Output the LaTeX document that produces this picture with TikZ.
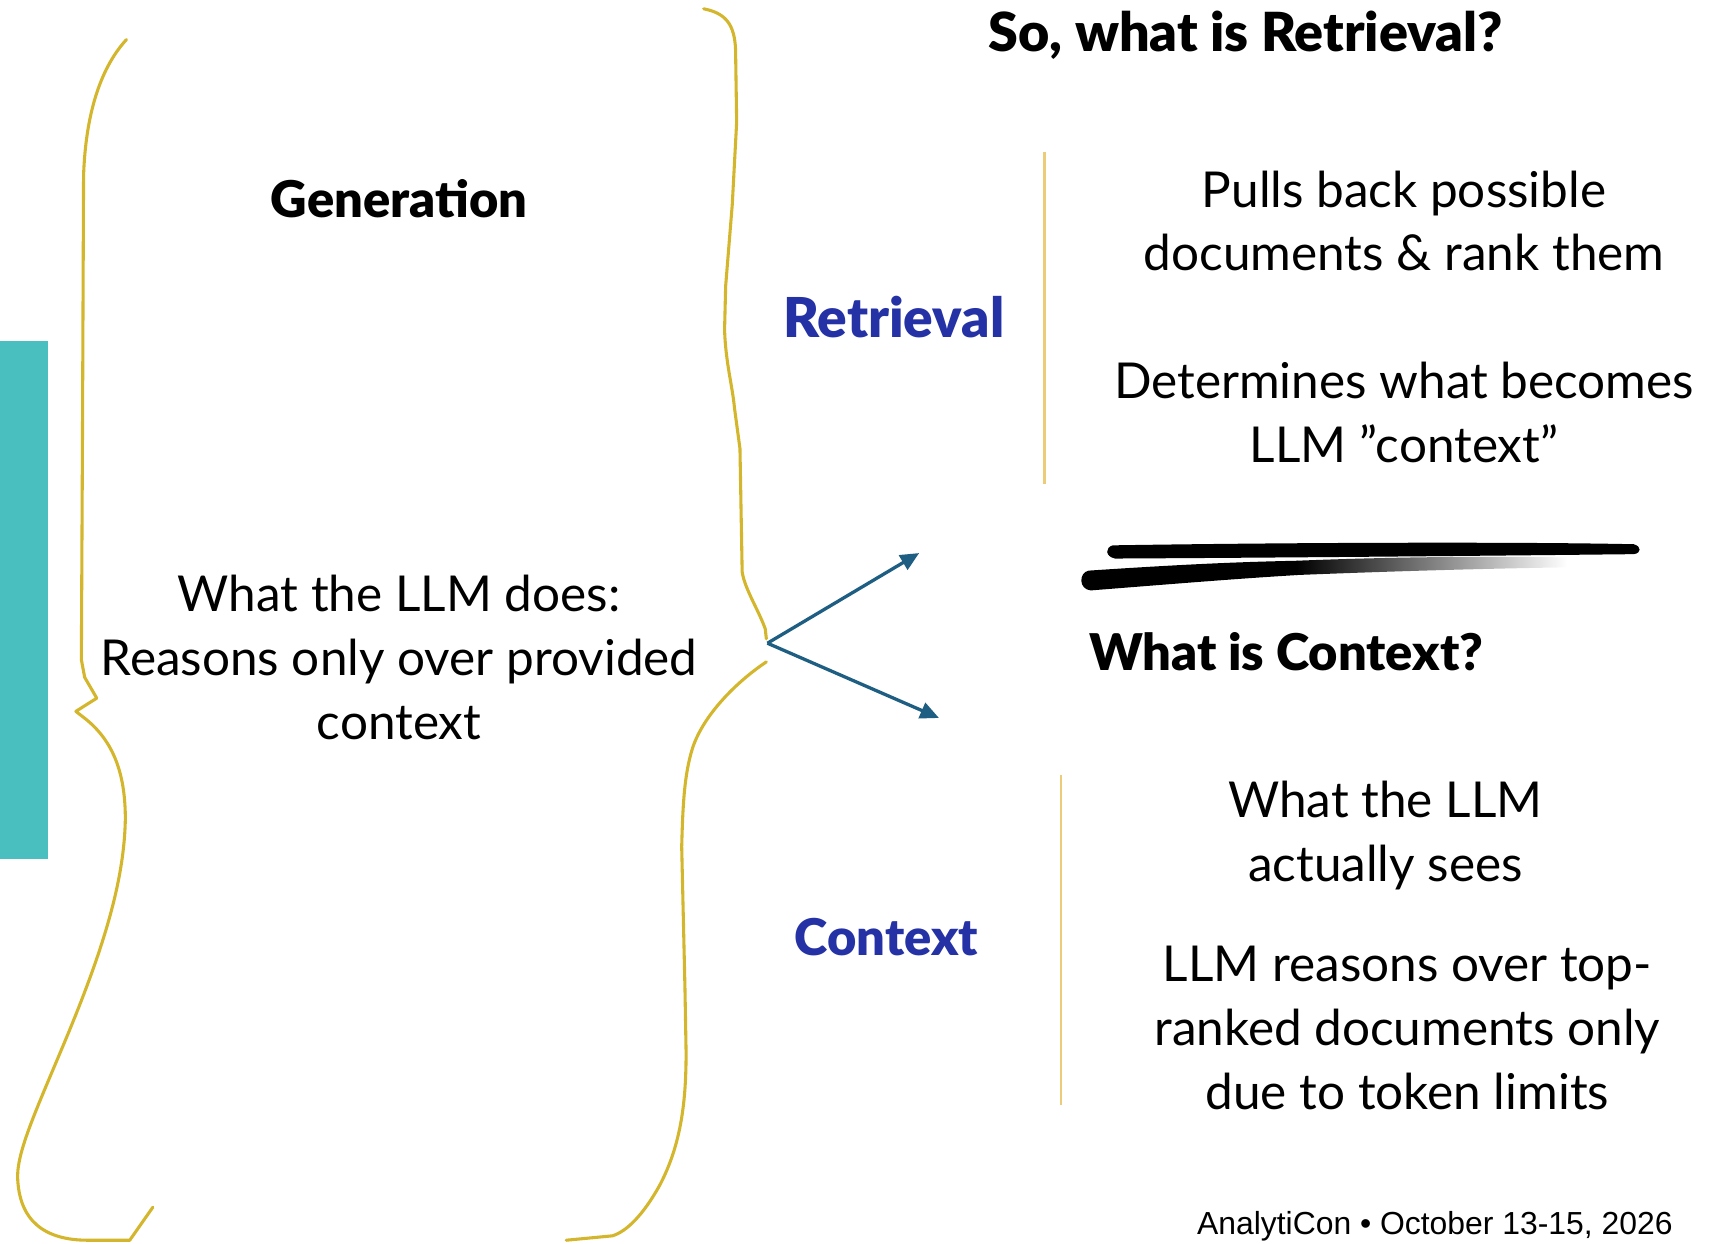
\documentclass[tikz,border=0pt]{standalone}
\usepackage{fontspec}
\setmainfont{Lato}
\newfontfamily\headfont{Lato Black}
\newfontfamily\footfont{Liberation Sans}
\usetikzlibrary{arrows.meta,fadings}
\definecolor{braceyellow}{RGB}{212,182,44}
\definecolor{ruleyellow}{RGB}{236,204,120}
\definecolor{tealbar}{RGB}{74,191,192}
\definecolor{arrowblue}{RGB}{30,94,130}
\definecolor{labelblue}{RGB}{36,50,165}
% opaque on the left, transparent on the right
\tikzfading[name=fadeout, left color=transparent!0, right color=transparent!100]
\tikzset{
  body/.style={align=center, font=\fontsize{45}{58}\selectfont, inner sep=0pt},
  heading/.style={font=\headfont\fontsize{46}{54}\selectfont, inner sep=0pt},
  sidelabel/.style={heading, text=labelblue},
  brace/.style={draw=braceyellow, line width=2.8pt, line join=round, line cap=round},
  divider/.style={draw=ruleyellow, line width=2pt},
  pointer/.style={draw=arrowblue, line width=3pt, -{Triangle[length=17pt,width=15pt]}},
}
\begin{document}
\begin{tikzpicture}[x=1pt,y=-1pt]
\useasboundingbox (0,0) rectangle (1568,1131);
\fill[white] (0,0) rectangle (1568,1131);

% side tab
\fill[tealbar] (0,310) rectangle (44,781);

% left curly brace
\draw[brace] (115,36) .. controls (93,60) and (78,100) .. (76,160)
  -- (75,400) -- (74,600) -- (77,616) -- (88,635) -- (69,647) -- (78,654)
  .. controls (104,675) and (114,705) .. (114,745)
  .. controls (113,800) and (95,860) .. (62,940)
  .. controls (35,1005) and (16,1045) .. (16,1070)
  .. controls (17,1110) and (40,1128) .. (80,1128)
  -- (118,1128) -- (139,1098);

% right curly brace, upper and lower halves
\draw[brace] (640,8) .. controls (660,12) and (668,22) .. (669,45)
  -- (670,111) -- (666,186) -- (660,260) -- (659,300)
  .. controls (660,330) and (666,350) .. (668,371)
  -- (673,408) -- (675,520) .. controls (677,535) and (690,555) .. (696,572) -- (697,581);
\draw[brace] (697,602) .. controls (670,620) and (640,650) .. (630,680)
  .. controls (622,705) and (621,735) .. (620,770)
  -- (623,900) -- (624,957)
  .. controls (624,1000) and (620,1040) .. (600,1078)
  .. controls (585,1105) and (570,1120) .. (557,1124) -- (515,1128);

% fork arrows
\coordinate (fork) at (698,585);
\coordinate (upTip) at (836,503);
\coordinate (downTip) at (854,653);
\draw[pointer] (fork) -- (upTip);
\draw[pointer] (fork) -- (downTip);

% dividers beside the side labels
\draw[divider] (950,138) -- (950,440);
\draw[divider] (965,705) -- (965,1005);

% brush-stroke separator: thin upper stroke
\fill[black] (1012,496) .. controls (1200,493) and (1400,493) .. (1486,495)
  .. controls (1493,497) and (1493,503) .. (1486,504)
  .. controls (1400,505) and (1200,507) .. (1014,508)
  .. controls (1005,506) and (1005,498) .. (1012,496);
% thick lower stroke, solid part
\fill[black] (990,519) .. controls (1080,513) and (1130,511) .. (1180,510)
  -- (1180,523) .. controls (1130,526) and (1080,530) .. (992,537)
  .. controls (981,536) and (981,521) .. (990,519);
% thick lower stroke, dry-brush tail
\fill[black, path fading=fadeout] (1179,510) .. controls (1280,506) and (1360,506) .. (1425,507)
  -- (1425,516) .. controls (1360,517) and (1280,519) .. (1179,523) -- cycle;

% texts
\node[heading, font=\headfont\fontsize{49}{56}\selectfont] (title) at (1133,32) {So, what is Retrieval?};
\node[heading] (gen) at (363,181) {Generation};
\node[body] (does) at (363,598) {What the LLM does:\\Reasons only over provided\\context};
\node[sidelabel, font=\headfont\fontsize{50}{56}\selectfont] (retr) at (813,288) {Retrieval};
\node[body] (pulls) at (1277,201) {Pulls back possible\\documents \& rank them};
\node[body] (determ) at (1277,375) {Determines what becomes\\LLM \symbol{34}context\symbol{34}};
\node[heading] (ctxq) at (1170,593) {What is Context?};
\node[body] (sees) at (1260,760) {What the LLM\\actually sees};
\node[body] (topr) at (1280,935) {LLM reasons over top-\\ranked documents only\\due to token limits};
\node[sidelabel] (ctx) at (806,852) {Context};
\node[font=\footfont\fontsize{29}{34}\selectfont, inner sep=0pt] (foot) at (1305,1115) {AnalytiCon • October 13-15, 2026};
\end{tikzpicture}
\end{document}
